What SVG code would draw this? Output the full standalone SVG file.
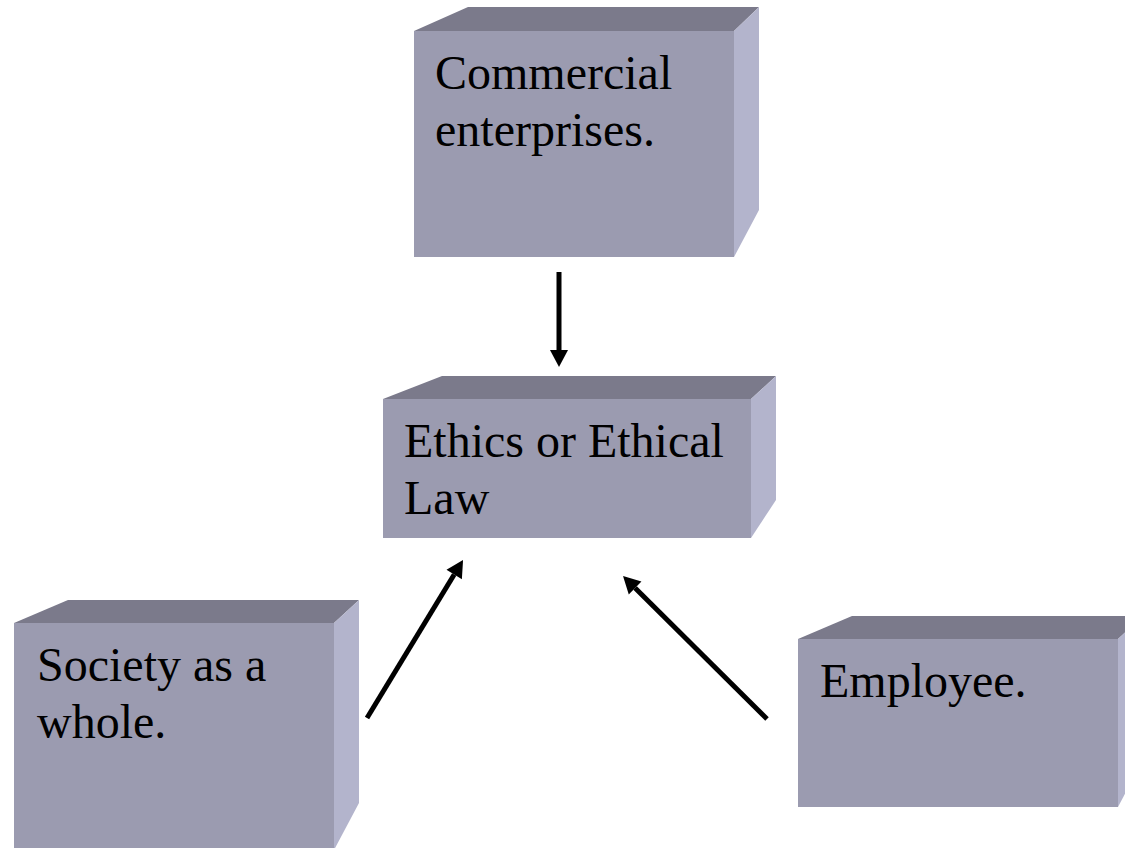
<svg xmlns="http://www.w3.org/2000/svg" width="1125" height="848" viewBox="0 0 1125 848">
<style>
.front{fill:#9b9bb0}
.top{fill:#7b7a8b}
.side{fill:#b3b4cc}
.lbl{font-family:"Liberation Serif","Times New Roman",serif;font-size:48px;fill:#000}
.conn{stroke:#000;stroke-width:5;fill:none}
</style>
<defs>
<marker id="ah" markerUnits="userSpaceOnUse" markerWidth="20" markerHeight="20" viewBox="0 -10 18 20" refX="0" refY="0" orient="auto">
<path d="M0,-9 L17,0 L0,9 z" fill="#000"/>
</marker>
</defs>
<rect width="1125" height="848" fill="#fff"/>
<g id="node-commercial">
<polygon class="top" points="414,31 468,7 759,7 734,31"/>
<polygon class="side" points="734,31 759,7 759,210 734,257"/>
<rect class="front" x="414" y="31" width="320" height="226"/>
<text class="lbl" x="435" y="89">Commercial</text>
<text class="lbl" x="435" y="146">enterprises.</text>
</g>
<g id="node-ethics">
<polygon class="top" points="383,399 442,376 776,376 751,399"/>
<polygon class="side" points="751,399 776,376 776,500 751,538"/>
<rect class="front" x="383" y="399" width="368" height="139"/>
<text class="lbl" x="404" y="457">Ethics or Ethical</text>
<text class="lbl" x="404" y="514">Law</text>
</g>
<g id="node-society">
<polygon class="top" points="14,623 68,600 359,600 334,623"/>
<polygon class="side" points="334,623 359,600 359,803 334,850"/>
<rect class="front" x="14" y="623" width="320" height="230"/>
<text class="lbl" x="37" y="681">Society as a</text>
<text class="lbl" x="37" y="738">whole.</text>
</g>
<g id="node-employee">
<polygon class="top" points="798,639 852,616 1143,616 1118,639"/>
<polygon class="side" points="1118,639 1143,616 1143,760 1118,807"/>
<rect class="front" x="798" y="639" width="320" height="168"/>
<text class="lbl" x="820" y="697">Employee.</text>
</g>
<g id="connectors">
<line class="conn" x1="559" y1="272" x2="559" y2="350" marker-end="url(#ah)"/>
<line class="conn" x1="367" y1="718" x2="454.2" y2="574.5" marker-end="url(#ah)"/>
<line class="conn" x1="767" y1="719" x2="635.1" y2="588" marker-end="url(#ah)"/>
</g>
</svg>
